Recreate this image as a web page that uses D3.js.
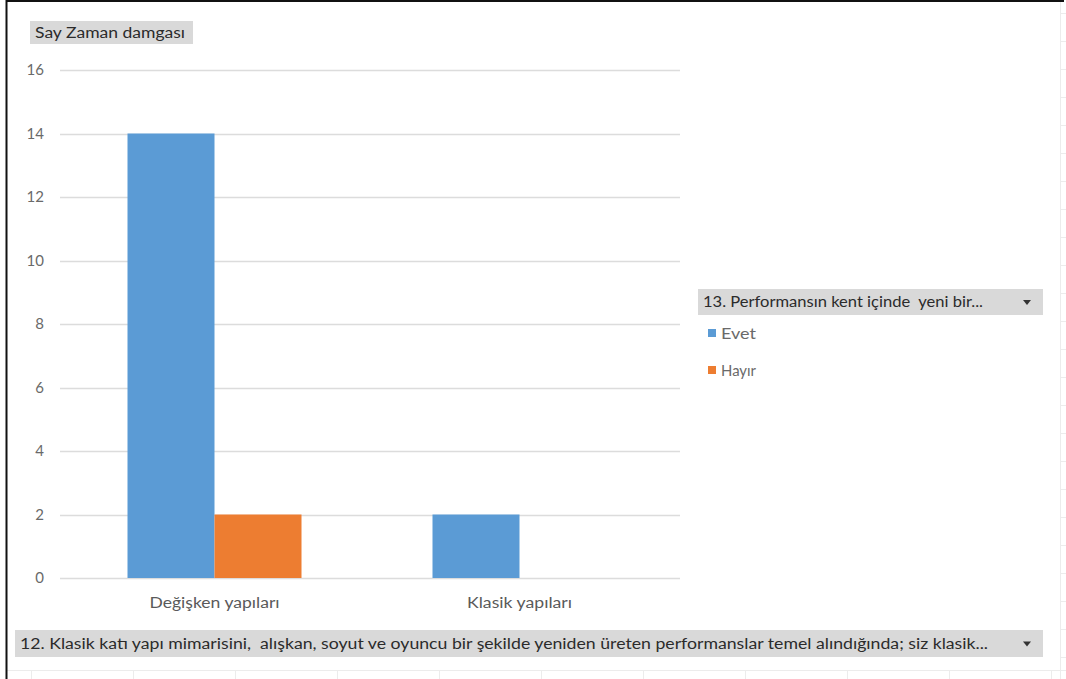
<!DOCTYPE html>
<html>
<head>
<meta charset="utf-8">
<script src="https://cdn.jsdelivr.net/npm/d3@7"></script>
<style>
  html, body { margin: 0; padding: 0; background: #fff; }
  svg { display: block; font-family: Lato, "Open Sans", sans-serif; }
  text { white-space: pre; }
</style>
</head>
<body>
<svg id="chart" width="1066" height="679"></svg>
<script>
// Pivot chart: count of timestamps per answer to question 12, split by question 13
const categories = ["Değişken yapıları", "Klasik yapıları"];
const seriesNames = ["Evet", "Hayır"];
const evetValues = [14, 2];
const hayirValues = [2, 0];
const yTicks = [0, 2, 4, 6, 8, 10, 12, 14, 16];
const valueFieldLabel = "Say Zaman damgası";
const legendFieldLabel = "13. Performansın kent içinde  yeni bir...";
const axisFieldLabel = "12. Klasik katı yapı mimarisini,  alışkan, soyut ve oyuncu bir şekilde yeniden üreten performanslar temel alındığında; siz klasik...";

const colors = { "Evet": "#5b9bd5", "Hayır": "#ed7d31" };
const rows = categories.map((c, i) => ({ category: c, Evet: evetValues[i], "Hayır": hayirValues[i] }));

const svg = d3.select("#chart");

// worksheet cell lines outside the chart object
const sheet = svg.append("g").attr("stroke", "#ececec").attr("stroke-width", 1);
sheet.append("line").attr("x1", 1060.5).attr("x2", 1060.5).attr("y1", 0).attr("y2", 679);
sheet.append("line").attr("x1", 6).attr("x2", 1066).attr("y1", 670.5).attr("y2", 670.5);
d3.range(13, 679, 28).forEach(y => sheet.append("line")
  .attr("x1", 1060).attr("x2", 1066).attr("y1", y + 0.5).attr("y2", y + 0.5));
d3.range(31, 1060, 102).forEach(x => sheet.append("line")
  .attr("x1", x + 0.5).attr("x2", x + 0.5).attr("y1", 670).attr("y2", 679));

// chart frame
svg.append("line").attr("x1", 6.5).attr("x2", 6.5).attr("y1", 0).attr("y2", 679)
  .attr("stroke", "#111").attr("stroke-width", 2);
svg.append("line").attr("x1", 6).attr("x2", 1064).attr("y1", 1).attr("y2", 1)
  .attr("stroke", "#111").attr("stroke-width", 2);

// scales
const x0 = d3.scaleBand().domain(categories).range([62, 672]).paddingInner(0).paddingOuter(0);
const groupWidth = 174;
const x1 = d3.scaleBand().domain(seriesNames).range([0, groupWidth]);
const y = d3.scaleLinear().domain([0, 16]).range([578, 70]);

// gridlines
svg.append("g")
  .selectAll("line").data(yTicks).join("line")
  .attr("x1", 60).attr("x2", 680)
  .attr("y1", d => Math.round(y(d)) + 0.5).attr("y2", d => Math.round(y(d)) + 0.5)
  .attr("stroke", "#dcdcdc").attr("stroke-width", 1.5);

// y axis labels
const yAxis = d3.axisLeft(y).tickValues(yTicks).tickSize(0).tickPadding(0);
const yg = svg.append("g").attr("transform", "translate(44,0)").call(yAxis);
yg.select(".domain").remove();
yg.selectAll("text").attr("fill", "#6a6a6a").attr("font-size", 15)
  .attr("font-family", "Lato, 'Open Sans', sans-serif");

// bars
const groups = svg.append("g").selectAll("g").data(rows).join("g")
  .attr("transform", d => `translate(${x0(d.category) + x0.bandwidth() / 2 - groupWidth / 2},0)`);
groups.selectAll("rect")
  .data(d => seriesNames.map(s => ({ series: s, value: d[s] })))
  .join("rect")
  .attr("x", d => x1(d.series))
  .attr("width", x1.bandwidth())
  .attr("y", d => y(d.value))
  .attr("height", d => y(0) - y(d.value))
  .attr("fill", d => colors[d.series]);

// category labels
const catWidths = { "Değişken yapıları": 130, "Klasik yapıları": 105 };
const xAxis = d3.axisBottom(x0).tickSize(0).tickPadding(0);
const xg = svg.append("g").attr("transform", "translate(0,597)").call(xAxis);
xg.select(".domain").remove();
xg.selectAll("text").attr("fill", "#5a5a5a").attr("font-size", 15.5)
  .attr("font-family", "Lato, 'Open Sans', sans-serif")
  .attr("textLength", d => catWidths[d]).attr("lengthAdjust", "spacingAndGlyphs");

// field buttons
function fieldButton(x, yTop, w, h, label, textLen, withArrow) {
  const g = svg.append("g");
  g.append("rect").attr("x", x).attr("y", yTop).attr("width", w).attr("height", h)
    .attr("fill", "#d9d9d9");
  g.append("text").attr("x", x + 5).attr("y", yTop + h / 2 + 5)
    .attr("font-size", 14.5).attr("fill", "#2b2b2b")
    .attr("textLength", textLen).attr("lengthAdjust", "spacingAndGlyphs")
    .text(label);
  if (withArrow) {
    const ax = x + w - 16, ay = yTop + h / 2;
    g.append("path").attr("d", `M${ax - 4},${ay - 2} L${ax + 4},${ay - 2} L${ax},${ay + 3} Z`)
      .attr("fill", "#333");
  }
}
fieldButton(30, 21, 163, 23, valueFieldLabel, 150, false);
fieldButton(698, 289, 345, 26, legendFieldLabel, 280, true);
fieldButton(15, 630, 1028, 27, axisFieldLabel, 968, true);

// legend entries
const legend = svg.append("g").selectAll("g").data(seriesNames).join("g")
  .attr("transform", (d, i) => `translate(708,${329 + i * 37})`);
legend.append("rect").attr("width", 8).attr("height", 8).attr("fill", d => colors[d]);
legend.append("text").attr("x", 13).attr("y", 10).attr("font-size", 15)
  .attr("fill", "#6a6a6a")
  .attr("textLength", 35).attr("lengthAdjust", "spacingAndGlyphs")
  .text(d => d);
</script>
</body>
</html>
